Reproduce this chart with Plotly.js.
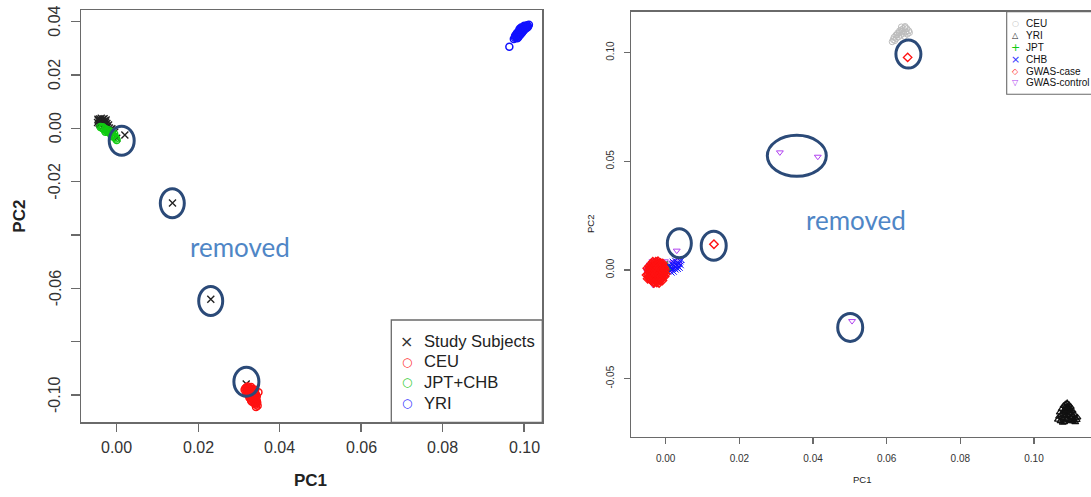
<!DOCTYPE html>
<html><head><meta charset="utf-8">
<script src="https://cdn.plot.ly/plotly-3.0.1.min.js"></script>
<style>html,body{margin:0;padding:0;background:#fff}#c{width:1091px;height:497px}</style>
</head><body><div id="c"></div>
<script>
// ---------- Left panel data (PC1, PC2) ----------
const leftStudyX = [-0.0045,-0.0042,-0.0038,-0.0035,-0.0040,-0.0047,-0.0033,-0.0030,-0.0036,-0.0041,-0.0028,-0.0032,-0.0025,-0.0044,-0.0039,-0.0034,-0.0029,-0.0037,-0.0043,-0.0031,-0.0026,-0.0022,-0.0018,-0.0015,-0.0010,-0.0005,0.0000,0.0020,-0.0020,-0.0012,-0.0046,-0.0040,-0.0034,-0.0038,-0.0027,-0.0024,0.0137,0.0231,0.0318];
const leftStudyY = [0.0030,0.0035,0.0038,0.0030,0.0025,0.0022,0.0022,0.0027,0.0018,0.0015,0.0015,0.0010,0.0008,0.0028,0.0031,0.0034,0.0020,0.0024,0.0019,0.0036,0.0031,0.0004,0.0001,-0.0004,-0.0008,-0.0015,-0.0037,-0.0025,0.0012,-0.0002,0.0034,0.0021,0.0026,0.0012,0.0024,0.0018,-0.0280,-0.0641,-0.0959];
const leftCEUX = [0.0318,0.0322,0.0326,0.0330,0.0334,0.0320,0.0324,0.0328,0.0332,0.0336,0.0340,0.0322,0.0326,0.0330,0.0334,0.0338,0.0342,0.0328,0.0332,0.0336,0.0340,0.0344,0.0330,0.0335,0.0339,0.0343,0.0346,0.0342,0.0314,0.0348,
  0.0316,0.0320,0.0324,0.0328,0.0332,0.0318,0.0322,0.0326,0.0330,0.0334,0.0338,0.0324,0.0328,0.0332,0.0336,0.0340,0.0326,0.0330,0.0334,0.0338,0.0342,0.0332,0.0336,0.0340,0.0344,0.0338,0.0342,0.0345];
const leftCEUY = [-0.0972,-0.0968,-0.0975,-0.0970,-0.0978,-0.0985,-0.0990,-0.0982,-0.0988,-0.0985,-0.0980,-0.0998,-0.1005,-0.0995,-0.1000,-0.0993,-0.0998,-0.1012,-0.1015,-0.1008,-0.1010,-0.1005,-0.1022,-0.1020,-0.1025,-0.1030,-0.1040,-0.1045,-0.0980,-0.0990,
  -0.0975,-0.0978,-0.0980,-0.0976,-0.0979,-0.0992,-0.0988,-0.0994,-0.0990,-0.0993,-0.0988,-0.1002,-0.1000,-0.1005,-0.1001,-0.1002,-0.1010,-0.1008,-0.1012,-0.1016,-0.1014,-0.1025,-0.1022,-0.1020,-0.1022,-0.1032,-0.1036,-0.1028];
const leftASNX = [-0.0040,-0.0036,-0.0033,-0.0030,-0.0027,-0.0025,-0.0022,-0.0020,-0.0018,-0.0015,-0.0013,-0.0010,-0.0008,-0.0006,-0.0004,-0.0002,0.0000,-0.0012,-0.0028,-0.0034];
const leftASNY = [0.0005,0.0002,-0.0001,-0.0005,-0.0003,-0.0009,-0.0012,-0.0007,-0.0016,-0.0019,-0.0014,-0.0024,-0.0028,-0.0021,-0.0033,-0.0038,-0.0044,-0.0030,-0.0013,0.0004];
const leftYRIX = [0.0975,0.0978,0.0981,0.0984,0.0987,0.0990,0.0993,0.0996,0.0999,0.1002,0.1005,0.1008,0.0982,0.0986,0.0990,0.0994,0.0998,0.1003,0.0999,0.0995,0.0991,0.0987,0.1006,0.1010,0.0983,
  0.0980,0.0984,0.0988,0.0992,0.0996,0.1000,0.1004,0.1008,0.0978,0.0989,0.0993,0.1001,0.1012,0.0985,0.0964];
const leftYRIY = [0.0335,0.0340,0.0345,0.0350,0.0355,0.0360,0.0365,0.0370,0.0375,0.0380,0.0383,0.0386,0.0355,0.0362,0.0368,0.0374,0.0380,0.0373,0.0366,0.0358,0.0351,0.0344,0.0377,0.0382,0.0338,
  0.0350,0.0358,0.0350,0.0362,0.0364,0.0370,0.0376,0.0378,0.0346,0.0372,0.0378,0.0385,0.0388,0.0340,0.0306];
const leftXTicks = [0.00,0.02,0.04,0.06,0.08,0.10];
const leftXTickText = ['0.00','0.02','0.04','0.06','0.08','0.10'];
const leftYTicks = [0.04,0.02,0.00,-0.02,-0.04,-0.06,-0.08,-0.10];
const leftYTickText = ['0.04','0.02','0.00','-0.02','','-0.06','','-0.10'];
const leftLegend = ['Study Subjects','CEU','JPT+CHB','YRI'];

// ---------- Right panel data (PC1, PC2) ----------
const rightCEUX = [0.0620,0.0625,0.0630,0.0635,0.0640,0.0645,0.0650,0.0655,0.0660,0.0652,0.0645,0.0638,0.0632,0.0626,0.0618,0.0648,0.0656,0.0662,0.0642,0.0634,0.0628,0.0650,0.0640,0.0615,0.0622];
const rightCEUY = [0.1070,0.1080,0.1090,0.1100,0.1105,0.1110,0.1115,0.1110,0.1100,0.1095,0.1088,0.1080,0.1072,0.1065,0.1060,0.1075,0.1085,0.1092,0.1098,0.1092,0.1082,0.1120,0.1118,0.1050,0.1055];
const rightYRIX = [0.1080,0.1085,0.1090,0.1095,0.1100,0.1075,0.1082,0.1090,0.1098,0.1105,0.1070,0.1078,0.1086,0.1094,0.1102,0.1110,0.1068,0.1076,0.1084,0.1092,0.1100,0.1108,0.1116,0.1072,0.1082,0.1095,0.1112,0.1088,0.1065,0.1118,
  0.1086,0.1092,0.1080,0.1088,0.1096,0.1104,0.1074,0.1080,0.1090,0.1098,0.1106,0.1114,0.1078,0.1102];
const rightYRIY = [-0.0625,-0.0618,-0.0612,-0.0620,-0.0630,-0.0640,-0.0645,-0.0635,-0.0640,-0.0648,-0.0655,-0.0660,-0.0655,-0.0650,-0.0660,-0.0665,-0.0675,-0.0680,-0.0672,-0.0668,-0.0678,-0.0685,-0.0690,-0.0695,-0.0700,-0.0690,-0.0700,-0.0685,-0.0688,-0.0678,
  -0.0630,-0.0625,-0.0650,-0.0645,-0.0658,-0.0670,-0.0668,-0.0688,-0.0678,-0.0695,-0.0695,-0.0682,-0.0702,-0.0650];
const rightJPTX = [-0.0005,0.0000,0.0003,0.0006,-0.0002,0.0008,0.0001,0.0010,-0.0007,0.0004];
const rightJPTY = [0.0005,0.0010,-0.0003,0.0012,-0.0008,0.0002,0.0018,0.0008,0.0015,0.0022];
const rightCHBX = [0.0005,0.0010,0.0015,0.0018,0.0020,0.0023,0.0025,0.0028,0.0030,0.0032,0.0035,0.0037,0.0040,0.0043,0.0012,0.0016,0.0022,0.0027,0.0033,0.0008,0.0038,0.0026,0.0019,0.0041,0.0000];
const rightCHBY = [0.0005,0.0015,0.0010,0.0025,0.0005,0.0018,0.0030,0.0012,0.0022,0.0035,0.0015,0.0028,0.0040,0.0046,-0.0005,-0.0012,-0.0008,0.0002,0.0005,0.0022,0.0010,0.0042,0.0038,0.0022,-0.0015];
const rightCaseX = [-0.0045,-0.0042,-0.0040,-0.0038,-0.0036,-0.0034,-0.0032,-0.0030,-0.0029,-0.0027,-0.0026,-0.0025,-0.0023,-0.0022,-0.0020,-0.0019,-0.0018,-0.0016,-0.0015,-0.0013,-0.0012,-0.0010,-0.0009,-0.0008,-0.0006,-0.0038,-0.0033,-0.0028,-0.0024,-0.0017,-0.0044,-0.0041,-0.0011,-0.0005,-0.0031,-0.0021,-0.0047,-0.0035,-0.0014,-0.0007,-0.0052,
  -0.0048,-0.0046,-0.0044,-0.0043,-0.0040,-0.0039,-0.0037,-0.0036,-0.0034,-0.0033,-0.0031,-0.0030,-0.0029,-0.0028,-0.0026,-0.0025,-0.0024,-0.0023,-0.0022,-0.0021,-0.0020,-0.0019,-0.0018,-0.0017,-0.0016,-0.0015,-0.0014,-0.0013,-0.0012,-0.0010,-0.0009,-0.0008,-0.0007,-0.0006,-0.0004,-0.0003,-0.0002,-0.0049,-0.0050,-0.0027,-0.0032,0.0000,
  0.0131,0.0657];
const rightCaseY = [-0.0010,0.0005,-0.0025,0.0015,-0.0005,-0.0040,0.0020,-0.0015,0.0008,-0.0030,0.0025,-0.0008,0.0012,-0.0045,-0.0020,0.0030,0.0002,-0.0035,0.0018,-0.0012,0.0010,-0.0025,0.0022,-0.0005,0.0005,-0.0035,0.0030,-0.0050,0.0035,-0.0048,0.0020,-0.0045,-0.0040,-0.0015,-0.0055,0.0040,-0.0030,0.0038,0.0032,0.0015,-0.0023,
  -0.0018,0.0000,-0.0040,0.0010,-0.0010,0.0028,-0.0050,0.0008,-0.0022,0.0012,-0.0032,0.0000,-0.0042,0.0018,-0.0018,0.0005,-0.0058,-0.0028,0.0022,-0.0010,0.0010,-0.0038,-0.0060,0.0018,-0.0022,0.0005,-0.0045,0.0025,-0.0030,0.0000,-0.0048,0.0030,-0.0022,-0.0010,0.0010,-0.0030,0.0000,-0.0040,0.0008,0.0038,-0.0060,-0.0018,
  0.0118,0.0978];
const rightCtrlX = [-0.0050,-0.0048,-0.0046,-0.0043,-0.0040,-0.0036,-0.0034,-0.0030,-0.0026,-0.0020,-0.0015,-0.0010,-0.0005,0.0000,0.0005,0.0010,0.0015,0.0020,0.0025,0.0030,-0.0002,-0.0052,0.0008,0.0035,0.0030,0.0310,0.0413,0.0506];
const rightCtrlY = [-0.0010,0.0010,-0.0035,0.0025,-0.0055,0.0040,-0.0069,0.0045,-0.0060,0.0042,-0.0055,0.0035,-0.0030,0.0020,0.0010,0.0030,0.0005,0.0035,0.0015,0.0040,0.0040,0.0000,-0.0005,0.0025,0.0089,0.0541,0.0521,-0.0235];
const rightXTicks = [0.00,0.02,0.04,0.06,0.08,0.10];
const rightXTickText = ['0.00','0.02','0.04','0.06','0.08','0.10'];
const rightYTicks = [0.10,0.05,0.00,-0.05];
const rightYTickText = ['0.10','0.05','0.00','-0.05'];
const rightLegend = ['CEU','YRI','JPT','CHB','GWAS-case','GWAS-control'];

// ---------- layout helpers (pixel -> paper) ----------
const W = 1091, H = 497;
const px = v => v / W;
const py = v => 1 - v / H;
const FONT = 'Liberation Sans, Arial, sans-serif';
const AX = '#6a6a6a';

const traces = [
  {x: leftStudyX, y: leftStudyY, xaxis:'x', yaxis:'y', mode:'markers', name:leftLegend[0],
   marker:{symbol:'x-thin-open', size:7, color:'#222', line:{width:1.4, color:'#222'}}},
  {x: leftASNX, y: leftASNY, xaxis:'x', yaxis:'y', mode:'markers', name:leftLegend[2],
   marker:{symbol:'circle-open', size:7, color:'#11cc11', line:{width:1.4}}},
  {x: leftCEUX, y: leftCEUY, xaxis:'x', yaxis:'y', mode:'markers', name:leftLegend[1],
   marker:{symbol:'circle-open', size:7, color:'#ff1111', line:{width:1.5}}},
  {x: leftYRIX, y: leftYRIY, xaxis:'x', yaxis:'y', mode:'markers', name:leftLegend[3],
   marker:{symbol:'circle-open', size:7, color:'#1111ff', line:{width:1.5}}},

  {x: rightCEUX, y: rightCEUY, xaxis:'x2', yaxis:'y2', mode:'markers', name:rightLegend[0],
   marker:{symbol:'circle-open', size:6, color:'#bdbdbd', line:{width:1}}},
  {x: rightYRIX, y: rightYRIY, xaxis:'x2', yaxis:'y2', mode:'markers', name:rightLegend[1],
   marker:{symbol:'triangle-up-open', size:6, color:'#111', line:{width:1.2}}},
  {x: rightCtrlX, y: rightCtrlY, xaxis:'x2', yaxis:'y2', mode:'markers', name:rightLegend[5],
   marker:{symbol:'triangle-down-open', size:6, color:'#b040f0', line:{width:1}}},
  {x: rightJPTX, y: rightJPTY, xaxis:'x2', yaxis:'y2', mode:'markers', name:rightLegend[2],
   marker:{symbol:'cross-thin-open', size:6, color:'#11bb11', line:{width:1}}},
  {x: rightCHBX, y: rightCHBY, xaxis:'x2', yaxis:'y2', mode:'markers', name:rightLegend[3],
   marker:{symbol:'x-thin-open', size:6, color:'#1111ff', line:{width:1}}},
  {x: rightCaseX, y: rightCaseY, xaxis:'x2', yaxis:'y2', mode:'markers', name:rightLegend[4],
   marker:{symbol:'diamond-open', size:6.5, color:'#ff1111', line:{width:1.4}}}
];

const axCommon = {showline:true, linecolor:AX, linewidth:1.3, ticks:'outside', tickcolor:AX,
  tickwidth:1.3, showgrid:false, zeroline:false, tickmode:'array'};

const ELL = '#2b4a78';
function ell(xr, yr, cx, cy, w, h) {
  return {type:'circle', xref:xr, yref:yr, xsizemode:'pixel', ysizemode:'pixel',
    xanchor:cx, yanchor:cy, x0:-w/2, x1:w/2, y0:-h/2, y1:h/2,
    line:{color:ELL, width:3}, layer:'above'};
}

const shapes = [
  ell('x','y', 0.00123,-0.00465, 25, 29),
  ell('x','y', 0.01365,-0.02812, 24, 29),
  ell('x','y', 0.02308,-0.06475, 24, 29),
  ell('x','y', 0.03184,-0.09501, 25, 29),
  ell('x2','y2', 0.0356, 0.0525, 59, 41),
  ell('x2','y2', 0.0037, 0.0123, 24, 29),
  ell('x2','y2', 0.01304, 0.01119, 25, 29),
  ell('x2','y2', 0.0659, 0.0993, 25, 28),
  ell('x2','y2', 0.0501,-0.0264, 25, 28),
  // legend boxes
  {type:'rect', xref:'paper', yref:'paper', x0:px(391.3), x1:px(542.3), y0:py(320), y1:py(422.3),
   line:{color:AX, width:1.3}, fillcolor:'rgba(255,255,255,0)', layer:'above'},
  {type:'rect', xref:'paper', yref:'paper', x0:px(1006.7), x1:px(1100), y0:py(11.7), y1:py(94.3),
   line:{color:AX, width:1.1}, fillcolor:'rgba(255,255,255,0)', layer:'above'}
];

const ann = [];
function txt(x, y, t, o) {
  ann.push(Object.assign({xref:'paper', yref:'paper', x:px(x), y:py(y), text:t, showarrow:false,
    xanchor:'center', yanchor:'middle', font:{family:FONT, size:12, color:'#222'}}, o||{}));
}
// left panel tick labels (placed on the axis scale)
leftXTicks.forEach((v,i) => {
  ann.push({xref:'x', yref:'paper', x:v, y:py(447), text:leftXTickText[i], showarrow:false,
    xanchor:'center', yanchor:'middle', font:{family:FONT, size:16, color:'#333'}});
});
leftYTicks.forEach((v,i) => {
  if (!leftYTickText[i]) return;
  ann.push({xref:'paper', yref:'y', x:px(55), y:v, text:leftYTickText[i], showarrow:false, textangle:-90,
    xanchor:'center', yanchor:'middle', font:{family:FONT, size:16, color:'#333'}});
});
// axis titles
txt(20, 216.7, '<b>PC2</b>', {textangle:-90, font:{family:FONT, size:17, color:'#222'}});
txt(310.7, 480, '<b>PC1</b>', {font:{family:FONT, size:17, color:'#222'}});
txt(590, 224, 'PC2', {textangle:-90, font:{family:FONT, size:9.5, color:'#222'}});
txt(861.7, 479, 'PC1', {font:{family:FONT, size:9.5, color:'#222'}});
// "removed" labels
txt(240, 247, 'removed', {font:{family:'Lato, Open Sans, sans-serif', size:26, color:'#4f86c6'}});
txt(856, 220, 'removed', {font:{family:'Lato, Open Sans, sans-serif', size:26, color:'#4f86c6'}});
// left legend
const lRows = [341, 361.5, 382, 403];
const lSym = ['×','○','○','○'];
const lCol = ['#333','#ff3333','#33cc33','#3333ff'];
leftLegend.forEach((t,i) => {
  txt(406.7, lRows[i], lSym[i], {font:{family:'DejaVu Sans, sans-serif', size:i===0?16:12, color:lCol[i]}});
  txt(421.7, lRows[i], t, {xanchor:'left', font:{family:FONT, size:16.6, color:'#222'}});
});
// right legend
const rRows = [24, 35.6, 47.6, 59.6, 71.6, 83];
const rSym = ['○','△','+','×','◇','▽'];
const rCol = ['#bdbdbd','#222','#11cc11','#3333ff','#ff2222','#b040f0'];
rightLegend.forEach((t,i) => {
  txt(1015, rRows[i], rSym[i], {font:{family:'DejaVu Sans, sans-serif', size:i===2||i===3?11:8, color:rCol[i]}});
  txt(1024, rRows[i], t, {xanchor:'left', font:{family:FONT, size:10, color:'#111'}});
});

const layout = {
  width:W, height:H, margin:{l:0,r:0,t:0,b:0}, paper_bgcolor:'#fff', plot_bgcolor:'#fff',
  showlegend:false, font:{family:FONT, color:'#333'},
  xaxis: Object.assign({}, axCommon, {domain:[px(81), px(542.3)], range:[-0.008765, 0.10449],
    anchor:'y', mirror:true, tickvals:leftXTicks, ticktext:leftXTickText, ticklen:8, showticklabels:false}),
  yaxis: Object.assign({}, axCommon, {domain:[py(422.3), py(10)], range:[-0.11024, 0.04436],
    anchor:'x', mirror:true, tickvals:leftYTicks, ticktext:leftYTickText, ticklen:9, showticklabels:false}),
  xaxis2: Object.assign({}, axCommon, {domain:[px(631), 1], range:[-0.009422, 0.11548],
    anchor:'y2', mirror:true, tickvals:rightXTicks, ticktext:rightXTickText, ticklen:6,
    tickfont:{family:FONT, size:10, color:'#333'}, ticklabelstandoff:6}),
  yaxis2: Object.assign({}, axCommon, {domain:[py(437), py(11.7)], range:[-0.07682, 0.11881],
    anchor:'x2', mirror:false, tickvals:rightYTicks, ticktext:rightYTickText, ticklen:6, tickangle:-90,
    tickfont:{family:FONT, size:10, color:'#333'}, ticklabelstandoff:6}),
  shapes: shapes,
  annotations: ann
};

Plotly.newPlot('c', traces, layout, {staticPlot:true, displayModeBar:false});
</script></body></html>
